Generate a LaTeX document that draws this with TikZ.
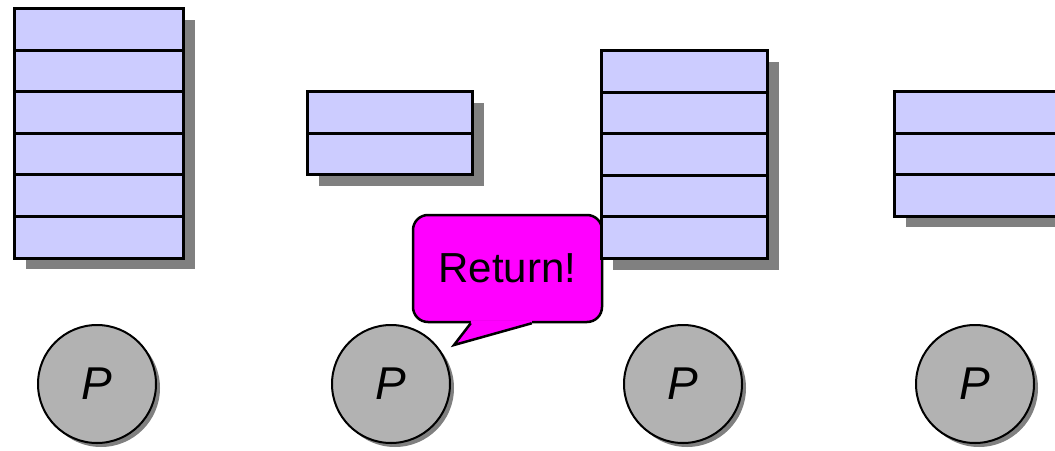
\documentclass[tikz,border=0pt]{standalone}
\usepackage{fontspec}
\setmainfont{Liberation Sans}
\usetikzlibrary{shadows,calc}
\definecolor{cellblue}{RGB}{204,204,255}
\definecolor{procgray}{RGB}{178,178,178}
\definecolor{shadowgray}{RGB}{128,128,128}
\definecolor{bubblemag}{RGB}{255,0,255}
\tikzset{
  cell/.style={draw=black, line width=3pt, fill=cellblue, rectangle,
    inner sep=0pt, outer sep=0pt, minimum height=41.6pt, anchor=north west},
  stackshadow/.style={fill=shadowgray},
  proc/.style={circle, draw=black, line width=2pt, fill=procgray,
    minimum size=118pt, inner sep=0pt,
    drop shadow={shadow xshift=4pt, shadow yshift=-4pt, fill=shadowgray, opacity=1},
    font=\fontsize{46}{46}\selectfont\itshape},
  bubble/.style={rectangle, rounded corners=15pt, draw=black, line width=2.5pt,
    fill=bubblemag, minimum width=189pt, minimum height=107pt, inner sep=0pt,
    font=\fontsize{42}{42}\selectfont},
  tailfill/.style={fill=bubblemag},
  tailedge/.style={draw=black, line width=2.5pt, line join=miter}
}
\begin{document}
\begin{tikzpicture}[x=1pt, y=-1pt]
  \useasboundingbox (0,0) rectangle (1055,450);
  \clip (0,0) rectangle (1055,450);
  % speech bubble (lies beneath the third stack)
  \node[bubble] (ret) at (507.5,268.5) {Return!};
  \coordinate (tip) at (454,345);
  \coordinate (tl) at ([xshift=59pt]ret.south west);
  \coordinate (tr) at ([xshift=120pt]ret.south west);
  \fill[tailfill] ([yshift=3pt]tl) -- (tl) -- (tip) -- (tr) -- ([yshift=3pt]tr) -- cycle;
  \draw[tailedge] (tl) -- (tip) -- (tr);
  % stacks of memory cells: name / left / top / width / rows
  \foreach \s/\x/\y/\w/\n in {1/14.5/8.5/169/6, 2/307.5/91.5/165/2, 3/601.5/50.5/166/5, 4/894.5/91.5/180/3}{
    \fill[stackshadow] ({\x+11},{\y+11}) rectangle ++(\w,{\n*41.6});
    \foreach \i in {1,...,\n}{
      \node[cell, minimum width=\w pt] (s\s r\i) at (\x,{\y+(\i-1)*41.6}) {};
    }
  }
  % processes
  \node[proc] (p1) at (97,384) {P};
  \node[proc] (p2) at (391,384) {P};
  \node[proc] (p3) at (683,384) {P};
  \node[proc] (p4) at (975,384) {P};
\end{tikzpicture}
\end{document}
